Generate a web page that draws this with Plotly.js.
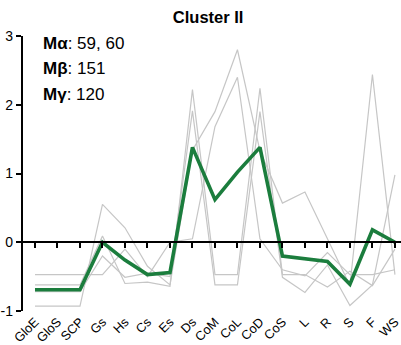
<!DOCTYPE html>
<html>
<head>
<meta charset="utf-8">
<script src="https://cdn.plot.ly/plotly-3.0.1.min.js"></script>
<style>html,body{margin:0;padding:0;background:#fff;}#chart{width:401px;height:345px;}</style>
</head>
<body>
<div id="chart"></div>
<script>
const categories = ["GloE","GloS","SCP","Gs","Hs","Cs","Es","Ds","CoM","CoL","CoD","CoS","L","R","S","F","WS"];
const member1 = [-0.47,-0.47,-0.47,-0.47,-0.10,-0.50,0.00,0.05,1.68,2.40,0.05,-0.40,-0.49,-0.15,-0.47,-0.47,-0.40];
const member2 = [-0.62,-0.62,-0.62,0.09,-0.60,-0.58,-0.64,2.22,-0.47,-0.47,2.24,-0.47,-0.47,-0.65,-0.42,-0.63,-0.10];
const member3 = [-0.72,-0.72,-0.72,-0.20,-0.51,-0.45,-0.50,1.91,-0.62,-0.62,1.90,-0.51,-0.73,-0.33,-0.92,-0.62,0.98];
const member4 = [-0.93,-0.93,-0.93,0.55,0.21,-0.35,-0.62,1.34,1.90,2.80,1.33,0.57,0.73,0.05,-0.63,2.44,-0.47];
const meanProfile = [-0.69,-0.69,-0.69,0.00,-0.26,-0.47,-0.44,1.38,0.62,1.02,1.38,-0.20,-0.24,-0.28,-0.61,0.18,0.00];
const yTicks = [-1,0,1,2,3];
const titleText = "Cluster II";
const notes = ["<b>Mα</b>: 59, 60","<b>Mβ</b>: 151","<b>Mγ</b>: 120"];

const grayStyle = {color:"#c6c6c6", width:1.2};
const traces = [member1, member2, member3, member4].map(v => ({
  x: categories, y: v, type: "scatter", mode: "lines", line: grayStyle, hoverinfo: "skip", showlegend: false
}));
traces.push({x: categories, y: meanProfile, type: "scatter", mode: "lines",
  line: {color: "#1b7d3d", width: 3.6}, showlegend: false});
traces.push({x: categories, y: meanProfile, xaxis: "x2", type: "scatter", mode: "lines",
  line: {width: 0}, opacity: 0, showlegend: false, hoverinfo: "skip"});

const font = "Arial, 'Liberation Sans', sans-serif";
const noteY = [0.9745, 0.8818, 0.789];
const layout = {
  width: 401, height: 345,
  margin: {l: 23, r: 0, t: 36, b: 34, pad: 0},
  paper_bgcolor: "#ffffff", plot_bgcolor: "#ffffff",
  font: {family: font, color: "#000"},
  title: {text: "<b>" + titleText + "</b>", font: {family: font, size: 16.5, color: "#000"},
          x: 0.519, xref: "container", y: 0.951, yref: "container", yanchor: "middle", xanchor: "center"},
  xaxis: {type: "category", range: [-0.533, 16.27], showline: false, showgrid: false, zeroline: false,
          ticks: "", tickangle: -45, tickfont: {family: font, size: 12.8, color: "#000"}, fixedrange: true},
  xaxis2: {type: "category", matches: "x", overlaying: "x", anchor: "free", position: 0.25, side: "bottom",
           showline: true, linecolor: "#000", linewidth: 2.2, ticks: "outside", ticklen: 5, tickwidth: 2,
           tickcolor: "#000", showticklabels: false, showgrid: false, zeroline: false},
  yaxis: {range: [-1, 3], tickvals: yTicks, ticktext: yTicks.map(String), showline: true, linecolor: "#000",
          linewidth: 2.2, ticks: "outside", ticklen: 5, tickwidth: 2, tickcolor: "#000", showgrid: false,
          zeroline: false, tickfont: {family: font, size: 14, color: "#000"}, fixedrange: true},
  annotations: notes.map((t, i) => ({text: t, xref: "paper", yref: "paper", x: 0.048, y: noteY[i],
    xanchor: "left", yanchor: "middle", showarrow: false, font: {family: font, size: 17, color: "#000"}}))
};
Plotly.newPlot("chart", traces, layout, {displayModeBar: false, staticPlot: true});
</script>
</body>
</html>
